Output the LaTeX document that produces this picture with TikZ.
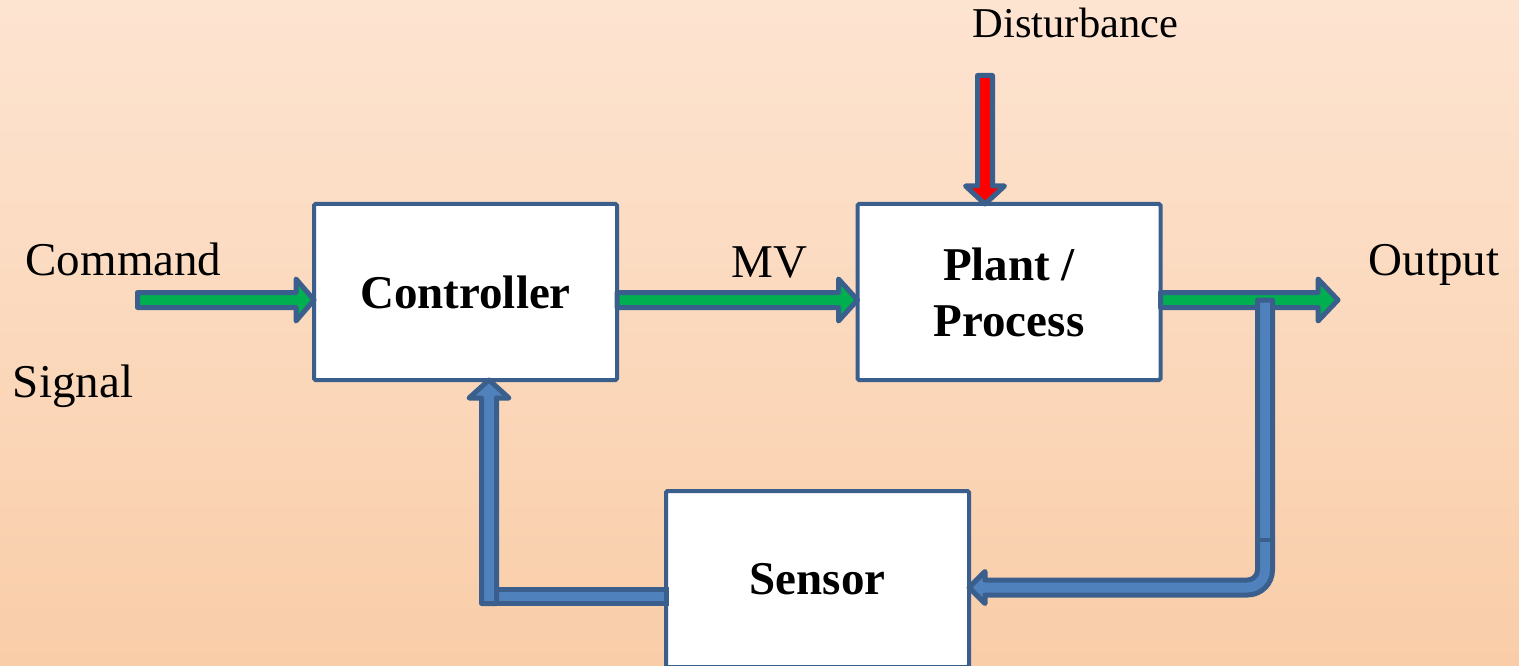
\documentclass[tikz,border=0pt]{standalone}
\usepackage{fontspec}
\setmainfont{Liberation Serif}
\usetikzlibrary{calc}
\definecolor{bgtop}{HTML}{FDE4D1}
\definecolor{bgbot}{HTML}{F9CDA8}
\definecolor{edgeblue}{HTML}{3B5F8C}
\definecolor{pipeblue}{HTML}{4F81BD}
\definecolor{siggreen}{HTML}{00B050}
\definecolor{disred}{HTML}{FF0000}
\newcommand\myRightArrow[4]{% start, tip, fill, head length
  \draw[barrow, fill=#3] ($(#1)+(0,-7.5)$) -- ($(#2)+(-#4,-7.5)$) -- ($(#2)+(-#4,-21)$) -- (#2)
    -- ($(#2)+(-#4,21)$) -- ($(#2)+(-#4,7.5)$) -- ($(#1)+(0,7.5)$) -- cycle;}
\begin{document}
\begin{tikzpicture}[x=1pt,y=-1pt,
  blockbox/.style={draw=edgeblue, line width=4pt, fill=white, minimum width=303pt,
    minimum height=176pt, inner sep=0pt, outer sep=0pt, rounded corners=1.5pt,
    font=\fontsize{47}{56}\selectfont\bfseries, align=center},
  lbl/.style={font=\fontsize{47}{56}\selectfont, anchor=base, inner sep=0pt},
  barrow/.style={draw=edgeblue, line width=5pt, line join=round}]
\useasboundingbox (0,0) rectangle (1519,666);
\clip (0,0) rectangle (1519,666);
\shade[top color=bgtop, bottom color=bgbot] (0,0) rectangle (1519,666);

% boxes
\node[blockbox] (ctrl) at (465.5,292) {Controller};
\node[blockbox] (plant) at (1009,292) {Plant /\\Process};
\node[blockbox] (sensor) at (817.5,579) {Sensor};

% labels
\node[lbl] (cmdtxt) at (123.5,275) {Command};
\node[lbl] (sigtxt) at (73,397) {Signal};
\node[lbl] (mvtxt) at (769.5,277) {MV};
\node[lbl] (outtxt) at (1434,275) {Output};
\node[lbl, font=\fontsize{42.5}{50}\selectfont] (disttxt) at (1075.5,38) {Disturbance};

% coordinates
\coordinate (cmdin) at (137.5,300);
\coordinate (cmdtip) at ($(ctrl.west)+(0,8)$);
\coordinate (mvin) at ($(ctrl.east)+(0,8)$);
\coordinate (mvtip) at ($(plant.west)+(0,8)$);
\coordinate (outin) at ($(plant.east)+(0,8)$);
\coordinate (outtip) at (1338,300);
\coordinate (disttop) at (985,75.5);
\coordinate (disttip) at ($(plant.north)+(-24,0)$);
\coordinate (fbtip) at ($(sensor.east)+(0,8.5)$);
\coordinate (fbbottom) at (489,603.5);
\coordinate (fbup) at ($(ctrl.south)+(23.5,0)$);

% forward arrows
\myRightArrow{cmdin}{cmdtip}{siggreen}{18}
\myRightArrow{mvin}{mvtip}{siggreen}{19}
\myRightArrow{outin}{outtip}{siggreen}{20}

% disturbance
\draw[barrow, fill=disred] ($(disttop)+(-7.5,0)$) -- ($(disttip)+(-7.5,-18)$) -- ($(disttip)+(-19.5,-18)$)
  -- (disttip) -- ($(disttip)+(19.5,-18)$) -- ($(disttip)+(7.5,-18)$) -- ($(disttop)+(7.5,0)$) -- cycle;

% feedback from output to sensor
\draw[barrow, fill=pipeblue] (1257.5,300) -- (1272.5,300) -- (1272.5,570)
  .. controls (1272.5,583.8) and (1261.3,595) .. (1247.5,595)
  -- ($(fbtip)+(16,7.5)$) -- ($(fbtip)+(16,16)$) -- (fbtip) -- ($(fbtip)+(16,-16)$) -- ($(fbtip)+(16,-7.5)$)
  -- (1247.5,580) .. controls (1253,580) and (1257.5,575.5) .. (1257.5,570) -- cycle;
\draw[edgeblue, line width=4pt] (1257.5,540) -- (1272.5,540);

% feedback from sensor to controller
\draw[barrow, fill=pipeblue, line join=miter] (496.5,589.5) rectangle ($(sensor.west)+(0,24.5)$);
\draw[barrow, fill=pipeblue] ($(fbbottom)+(-7.5,0)$) -- ($(fbup)+(-7.5,18)$) -- ($(fbup)+(-20,18)$)
  -- (fbup) -- ($(fbup)+(20,18)$) -- ($(fbup)+(7.5,18)$) -- ($(fbbottom)+(7.5,0)$) -- cycle;
\end{tikzpicture}
\end{document}
